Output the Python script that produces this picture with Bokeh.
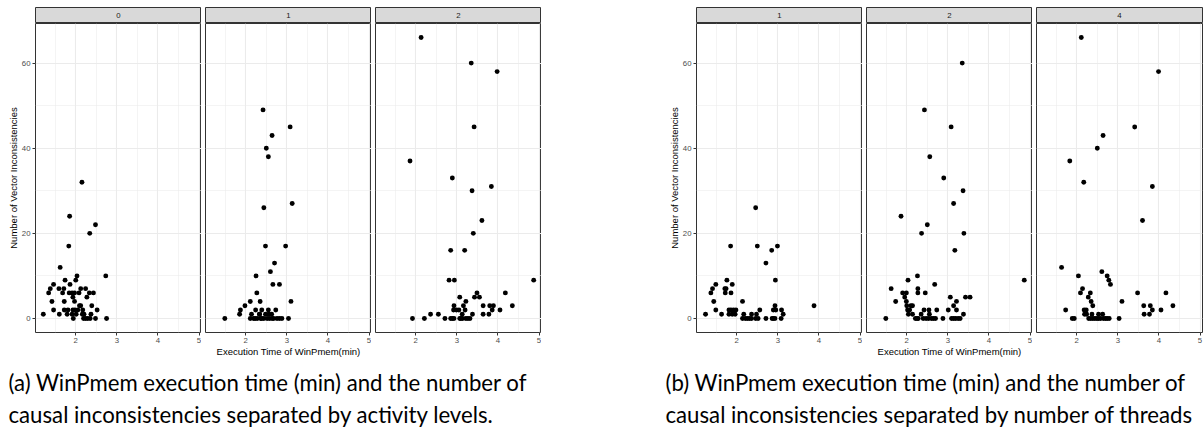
from bokeh.plotting import figure
from bokeh.layouts import row, column
from bokeh.models import Range1d, FixedTicker, Spacer
from bokeh.core.properties import value
from bokeh.embed import file_html
from bokeh.resources import INLINE

# ---------------- data ----------------
x_ticks = [2, 3, 4, 5]
y_ticks = [0, 20, 40, 60]
x_title = "Execution Time of WinPmem(min)"
y_title = "Number of Vector Inconsistencies"

# (a) by activity level
act_labels = ["0", "1", "2"]
act0_time = [1.21, 1.34, 1.38, 1.46, 1.42, 1.46, 1.62, 1.59, 1.60, 1.71, 1.68, 1.74, 1.72, 1.72,
             1.79, 1.81, 1.83, 1.85, 1.84, 1.86, 1.91, 1.93, 1.91, 1.94, 1.93, 1.97, 1.97, 1.98,
             2.00, 2.03, 2.01, 2.05, 2.08, 2.09, 2.12, 2.12, 2.15, 2.16, 2.17, 2.19, 2.20, 2.24,
             2.24, 2.27, 2.29, 2.33, 2.34, 2.35, 2.37, 2.39, 2.43, 2.48, 2.48, 2.52, 2.73, 2.75]
act0_incons = [1, 6, 7, 8, 4, 2, 12, 7, 1, 7, 6, 9, 4, 2,
               1, 2, 17, 24, 6, 8, 6, 5, 1, 0, 2, 6, 4, 2,
               9, 10, 1, 2, 6, 3, 3, 7, 32, 1, 2, 0, 1, 7,
               0, 5, 0, 6, 20, 0, 1, 3, 6, 22, 0, 2, 10, 0]
act1_time = [1.49, 1.85, 1.87, 1.98, 2.11, 2.11, 2.14, 2.25, 2.24, 2.27, 2.23, 2.35, 2.34, 2.36,
             2.39, 2.42, 2.44, 2.48, 2.44, 2.48, 2.52, 2.55, 2.56, 2.58, 2.63, 2.64, 2.68, 2.73,
             2.76, 2.82, 2.88, 2.50, 2.55, 2.60, 2.64, 2.66, 2.70, 2.82, 2.97, 3.04, 3.08, 3.10,
             3.13, 2.19, 2.28, 2.33, 2.39]
act1_incons = [0, 1, 2, 3, 4, 0, 1, 10, 2, 6, 0, 4, 1, 0,
               2, 49, 26, 17, 0, 1, 0, 2, 1, 0, 1, 0, 0, 2,
               0, 0, 0, 40, 38, 11, 43, 8, 13, 8, 17, 0, 45, 4,
               27, 0, 0, 1, 0]
act2_time = [1.92, 1.86, 2.13, 2.21, 2.36, 2.55, 2.71, 2.81, 2.85, 2.85, 2.89, 2.93, 2.89, 2.92,
             2.93, 2.94, 2.99, 3.07, 3.07, 3.10, 3.13, 3.14, 3.05, 3.16, 3.19, 3.20, 3.22, 3.22,
             3.27, 3.32, 3.35, 3.37, 3.38, 3.40, 3.42, 3.43, 3.49, 3.55, 3.61, 3.64, 3.64, 3.78,
             3.80, 3.84, 3.86, 3.89, 3.98, 4.05, 4.18, 4.35, 4.87]
act2_incons = [0, 37, 66, 0, 1, 1, 0, 9, 16, 0, 0, 0, 33, 2,
               3, 9, 2, 5, 0, 0, 1, 0, 2, 3, 16, 2, 4, 0,
               0, 0, 60, 30, 1, 20, 45, 5, 6, 5, 23, 3, 1, 1,
               3, 31, 2, 3, 58, 2, 6, 3, 9]

# (b) by number of threads
thr_labels = ["1", "2", "4"]
thr1_time = [1.24, 1.37, 1.41, 1.44, 1.49, 1.49, 1.63, 1.71, 1.72, 1.76, 1.74, 1.81, 1.81, 1.85,
             1.86, 1.89, 1.86, 1.89, 1.92, 1.96, 1.98, 2.14, 2.14, 2.17, 2.21, 2.26, 2.31, 2.36,
             2.36, 2.46, 2.48, 2.46, 2.52, 2.50, 2.56, 2.71, 2.71, 2.85, 2.86, 2.89, 2.93, 2.89,
             2.93, 2.94, 2.95, 2.99, 3.08, 3.09, 3.13, 3.88]
thr1_incons = [1, 6, 7, 4, 8, 2, 1, 7, 6, 9, 7, 2, 1, 17,
               6, 8, 2, 1, 2, 1, 2, 4, 0, 1, 0, 0, 0, 1,
               0, 26, 1, 0, 0, 17, 2, 0, 13, 16, 0, 0, 0, 2,
               3, 9, 2, 17, 0, 2, 1, 3]
thr2_time = [1.49, 1.62, 1.73, 1.86, 1.90, 1.95, 1.99, 1.99, 2.00, 2.02, 2.03, 2.04, 2.07, 2.10,
             2.14, 2.14, 2.21, 2.25, 2.28, 2.26, 2.27, 2.27, 2.35, 2.36, 2.42, 2.43, 2.45, 2.40,
             2.47, 2.53, 2.60, 2.65, 2.70, 2.50, 2.54, 2.55, 2.56, 2.68, 2.73, 2.88, 2.90, 3.01,
             3.06, 3.08, 3.09, 3.14, 3.19, 3.25, 3.30, 3.14, 3.14, 3.17, 3.21, 3.21, 3.35, 3.37,
             3.38, 3.39, 3.43, 3.54, 4.86]
thr2_incons = [0, 7, 4, 24, 6, 5, 6, 4, 3, 2, 9, 1, 2, 3,
               3, 1, 0, 0, 0, 10, 7, 6, 1, 20, 2, 49, 6, 0,
               0, 0, 0, 0, 0, 22, 2, 1, 38, 8, 2, 0, 33, 2,
               5, 45, 0, 0, 0, 0, 0, 27, 3, 16, 2, 4, 60, 30,
               1, 20, 5, 5, 9]
thr4_time = [1.63, 1.73, 1.83, 1.89, 1.94, 2.04, 2.09, 2.11, 2.14, 2.17, 2.18, 2.19, 2.23, 2.24,
             2.28, 2.29, 2.34, 2.39, 2.44, 2.49, 2.53, 2.58, 2.65, 2.70, 2.74, 2.79, 2.33, 2.35,
             2.39, 2.37, 2.50, 2.53, 2.61, 2.63, 2.64, 2.74, 2.78, 2.82, 3.03, 3.10, 3.41, 3.48,
             3.60, 3.63, 3.64, 3.77, 3.79, 3.84, 3.84, 3.99, 4.05, 4.17, 4.34]
thr4_incons = [12, 2, 37, 0, 0, 10, 6, 66, 7, 32, 2, 1, 2, 1,
               5, 0, 0, 0, 0, 0, 0, 0, 0, 0, 0, 0, 6, 4,
               3, 1, 40, 1, 11, 1, 43, 10, 9, 8, 0, 4, 45, 6,
               23, 3, 1, 1, 3, 31, 2, 58, 2, 6, 3]

caption_a = ["(a) WinPmem execution time (min) and the number of",
             "causal inconsistencies separated by activity levels."]
caption_b = ["(b) WinPmem execution time (min) and the number of",
             "causal inconsistencies separated by number of threads"]

# ---------------- styling / geometry ----------------
FW, FH = 166, 309
STRIP_H = 16
TOP_PAD = 7
BOTTOM_BORDER = 30
X_RANGE = (1.02, 5.06)
Y_RANGE = (-3.3, 69.3)
AX_FONT = "Liberation Sans"
BORDER = "#333333"
GRID = "#EBEBEB"
TOTAL_W, TOTAL_H = 1203, 434


def base_fig(**kw):
    p = figure(output_backend="svg", toolbar_location=None, **kw)
    p.background_fill_color = "white"
    p.border_fill_color = "white"
    return p


def facet(xs, ys, label, yaxis, xtitle, left_border, right_border=0):
    w = left_border + FW + right_border
    strip = base_fig(width=w, height=TOP_PAD + STRIP_H,
                     x_range=Range1d(0, 1), y_range=Range1d(0, 1),
                     x_axis_location=None, y_axis_location=None,
                     min_border_left=left_border, min_border_right=right_border,
                     min_border_bottom=0, min_border_top=TOP_PAD)
    strip.background_fill_color = "#D9D9D9"
    strip.outline_line_color = BORDER
    strip.outline_line_width = 1
    strip.xgrid.visible = False
    strip.ygrid.visible = False
    strip.text(x=[0.5], y=[0.5], text=[label], text_align="center",
               text_baseline="middle", text_font=value(AX_FONT),
               text_font_size="7.8px", text_color="#1A1A1A")

    p = base_fig(width=w, height=FH + BOTTOM_BORDER,
                 x_range=Range1d(*X_RANGE), y_range=Range1d(*Y_RANGE),
                 y_axis_location="left" if yaxis else None,
                 min_border_left=left_border, min_border_right=right_border,
                 min_border_bottom=BOTTOM_BORDER, min_border_top=0)
    p.outline_line_color = BORDER
    p.outline_line_width = 1

    xt = FixedTicker(ticks=x_ticks, minor_ticks=[1.5, 2.5, 3.5, 4.5])
    yt = FixedTicker(ticks=y_ticks, minor_ticks=[10, 30, 50])
    p.xaxis.ticker = xt
    p.xgrid.ticker = xt
    if yaxis:
        p.yaxis.ticker = yt
    p.ygrid.ticker = yt
    for g in (p.xgrid, p.ygrid):
        g.grid_line_color = GRID
        g.grid_line_width = 1.1
        g.minor_grid_line_color = GRID
        g.minor_grid_line_width = 0.55

    for ax in p.axis:
        ax.major_label_text_font = AX_FONT
        ax.major_label_text_font_size = "7.8px"
        ax.major_label_text_color = "#4D4D4D"
        ax.major_tick_line_color = BORDER
        ax.major_tick_out = 3
        ax.major_tick_in = 0
        ax.minor_tick_line_color = None
        ax.axis_line_color = None
        ax.major_label_standoff = 1
        ax.axis_label_text_font = AX_FONT
        ax.axis_label_text_font_style = "normal"
        ax.axis_label_text_font_size = "9.5px"
        ax.axis_label_text_color = "black"
        ax.axis_label_standoff = 0
    if yaxis:
        p.yaxis.axis_label = y_title
    if xtitle:
        p.xaxis.axis_label = x_title

    p.scatter(xs, ys, size=4.9, fill_color="black", line_color="black", line_width=0)
    return column(strip, p, spacing=0)


left = [facet(act0_time, act0_incons, act_labels[0], True, False, 35),
        facet(act1_time, act1_incons, act_labels[1], False, True, 4),
        facet(act2_time, act2_incons, act_labels[2], False, False, 4)]
right = [facet(thr1_time, thr1_incons, thr_labels[0], True, False, 35),
         facet(thr2_time, thr2_incons, thr_labels[1], False, True, 4),
         facet(thr4_time, thr4_incons, thr_labels[2], False, False, 4, right_border=1)]

ROW_H = TOP_PAD + STRIP_H + FH + BOTTOM_BORDER
top = row(*left, Spacer(width=120, height=ROW_H), *right, spacing=0)

CAP_H = TOTAL_H - ROW_H
cap = base_fig(width=TOTAL_W, height=CAP_H, x_range=Range1d(0, TOTAL_W), y_range=Range1d(CAP_H, 0),
               x_axis_location=None, y_axis_location=None,
               min_border_left=0, min_border_right=0, min_border_bottom=0, min_border_top=0)
cap.outline_line_color = None
cap.xgrid.visible = False
cap.ygrid.visible = False
cap_x = [8, 8, 665, 665]
cap_y = [20, 52, 20, 52]
cap.text(x=cap_x, y=cap_y, text=caption_a + caption_b, text_align="left",
         text_baseline="middle", text_font=value("Lato"),
         text_font_size="22.2px", text_color="black")

layout = column(top, cap, spacing=0)

open("out.html", "w").write(file_html(layout, INLINE))
